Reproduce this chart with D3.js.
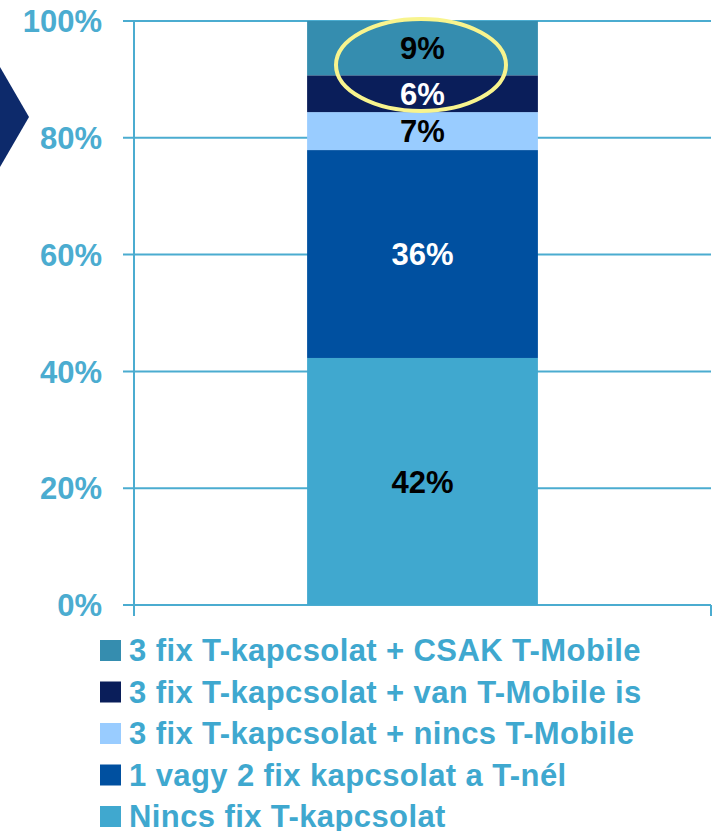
<!DOCTYPE html>
<html>
<head>
<meta charset="utf-8">
<script src="https://cdn.jsdelivr.net/npm/d3@7"></script>
<style>
  body { margin: 0; background: #fff; }
  svg { display: block; font-family: "Liberation Sans", Arial, sans-serif; font-weight: bold; }
</style>
</head>
<body>
<div id="chart"></div>
<script>
// segments from bottom to top
const categories = [
  "Nincs fix T-kapcsolat",
  "1 vagy 2 fix kapcsolat a T-nél",
  "3 fix T-kapcsolat + nincs T-Mobile",
  "3 fix T-kapcsolat + van T-Mobile is",
  "3 fix T-kapcsolat + CSAK T-Mobile"
];
const values = [42.3, 35.6, 6.5, 6.3, 9.3];
const labels = ["42%", "36%", "7%", "6%", "9%"];
const colors = ["#40A8CF", "#0050A0", "#99CCFF", "#0A1E5A", "#358DAF"];
const labelColors = ["#000", "#fff", "#000", "#fff", "#000"];
const yTicks = [0, 20, 40, 60, 80, 100];

const width = 712, height = 831;
const svg = d3.select("#chart").append("svg")
  .attr("width", width)
  .attr("height", height);

// scales
const y = d3.scaleLinear().domain([0, 100]).range([605, 21]);
const x = d3.scaleBand().domain(["all"]).range([134, 711]).paddingInner(0).paddingOuter(0.75);

// dark arrow on the left
svg.append("path")
  .attr("d", "M0,67 L29,117 L0,167 Z")
  .attr("fill", "#0D2A6B");

// gridlines
svg.append("g")
  .selectAll("line")
  .data(yTicks)
  .join("line")
  .attr("x1", 123)
  .attr("x2", 711)
  .attr("y1", d => y(d))
  .attr("y2", d => y(d))
  .attr("stroke", "#4BACD0")
  .attr("stroke-width", 2);

// axis lines
svg.append("line")
  .attr("x1", 134).attr("x2", 134)
  .attr("y1", y(100)).attr("y2", 616)
  .attr("stroke", "#4BACD0").attr("stroke-width", 2);
svg.append("line")
  .attr("x1", 711).attr("x2", 711)
  .attr("y1", y(0)).attr("y2", 616)
  .attr("stroke", "#4BACD0").attr("stroke-width", 2);

// y tick labels
svg.append("g")
  .selectAll("text")
  .data(yTicks)
  .join("text")
  .attr("x", 102)
  .attr("y", d => y(d))
  .attr("dy", "0.36em")
  .attr("text-anchor", "end")
  .attr("fill", "#4BACD0")
  .style("font-size", "31px")
  .text(d => d + "%");

// stack
let acc = 0;
const stacked = values.map((v, i) => {
  const s = { y0: acc, y1: acc + v, i };
  acc += v;
  return s;
});

const bar = svg.append("g");
bar.selectAll("rect")
  .data(stacked)
  .join("rect")
  .attr("x", x("all"))
  .attr("width", x.bandwidth())
  .attr("y", d => y(d.y1))
  .attr("height", d => y(d.y0) - y(d.y1))
  .attr("fill", d => colors[d.i]);

bar.selectAll("text")
  .data(stacked)
  .join("text")
  .attr("x", x("all") + x.bandwidth() / 2)
  .attr("y", d => y((d.y0 + d.y1) / 2))
  .attr("dy", "0.36em")
  .attr("text-anchor", "middle")
  .attr("fill", d => labelColors[d.i])
  .style("font-size", "31px")
  .text(d => labels[d.i]);

// yellow highlight ellipse
svg.append("ellipse")
  .attr("cx", 421)
  .attr("cy", 65)
  .attr("rx", 85)
  .attr("ry", 46)
  .attr("fill", "none")
  .attr("stroke", "#F8F48E")
  .attr("stroke-width", 4);

// legend (top to bottom = reverse of stack)
const legendItems = d3.range(categories.length).reverse();
const legend = svg.append("g")
  .selectAll("g")
  .data(legendItems)
  .join("g")
  .attr("transform", (d, k) => `translate(100,${650 + k * 41.5})`);

legend.append("rect")
  .attr("x", 0)
  .attr("y", -10)
  .attr("width", 21)
  .attr("height", 21)
  .attr("fill", d => colors[d]);

legend.append("text")
  .attr("x", 29)
  .attr("y", 0)
  .attr("dy", "0.36em")
  .attr("fill", "#3FA8CF")
  .style("font-size", "31px")
  .style("letter-spacing", "0.4px")
  .text(d => categories[d]);
</script>
</body>
</html>
